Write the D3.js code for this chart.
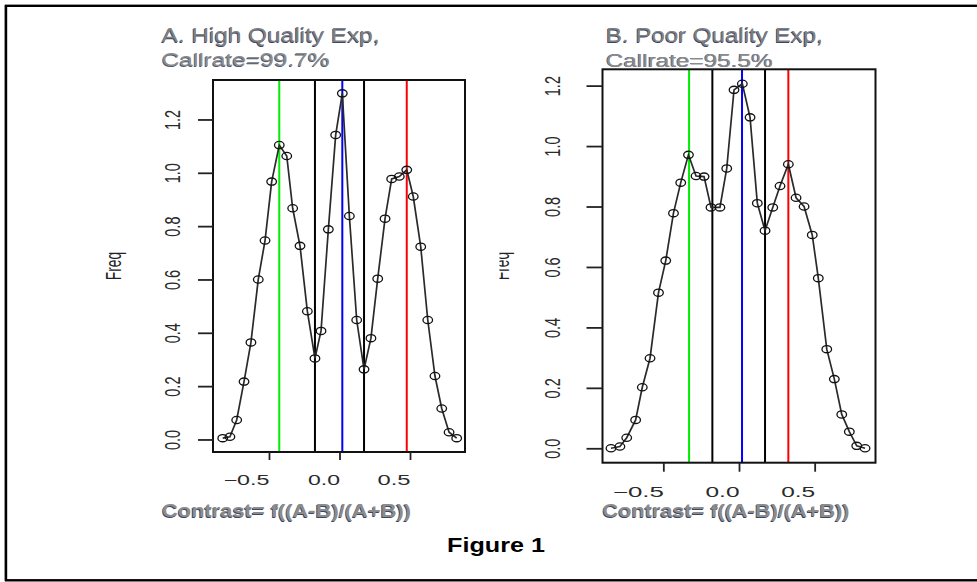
<!DOCTYPE html>
<html><head><meta charset="utf-8">
<script src="https://cdn.jsdelivr.net/npm/d3@7"></script>
<style>body{margin:0;background:#fff} svg{display:block}</style>
</head><body><svg id="c" width="977" height="582"></svg>
<script>
// ---------------- data ----------------
const xTickValues = [-0.5, 0.0, 0.5];
const xTickLabels = ["\u22120.5", "0.0", "0.5"];
const yTickValues = [0.0, 0.2, 0.4, 0.6, 0.8, 1.0, 1.2];
const yTickLabels = ["0.0", "0.2", "0.4", "0.6", "0.8", "1.0", "1.2"];

const contrastA = [-0.828,-0.777,-0.729,-0.677,-0.628,-0.576,-0.528,-0.481,-0.427,-0.374,-0.332,-0.280,-0.228,-0.174,-0.131,-0.079,-0.027,0.020,0.070,0.122,0.174,0.223,0.271,0.323,0.370,0.424,0.477,0.523,0.576,0.626,0.677,0.725,0.777,0.831];
const freqA = [0.005,0.010,0.073,0.217,0.364,0.600,0.746,0.967,1.104,1.063,0.867,0.726,0.481,0.304,0.407,0.788,1.142,1.298,0.838,0.448,0.263,0.380,0.603,0.828,0.977,0.986,1.011,0.911,0.723,0.448,0.238,0.116,0.027,0.005];

const contrastB = [-0.846,-0.787,-0.742,-0.683,-0.639,-0.588,-0.532,-0.484,-0.433,-0.385,-0.334,-0.284,-0.231,-0.185,-0.126,-0.081,-0.033,0.022,0.073,0.121,0.172,0.223,0.271,0.326,0.377,0.430,0.484,0.524,0.580,0.630,0.679,0.729,0.778,0.833];
const freqB = [0.000,0.006,0.035,0.094,0.202,0.298,0.515,0.621,0.778,0.879,0.971,0.901,0.899,0.797,0.797,0.926,1.186,1.206,1.095,0.811,0.720,0.797,0.868,0.940,0.829,0.800,0.706,0.563,0.328,0.229,0.112,0.055,0.008,0.000];

const cutsA = [-0.427, -0.174, 0.020, 0.174, 0.477];
const cutsB = [-0.330, -0.176, 0.020, 0.172, 0.326];
const cutColors = ["#00ee00", "#000000", "#0000ff", "#000000", "#ff0000"];

const titles = ["A. High Quality Exp,", "B. Poor Quality Exp,"];
const callrates = ["Callrate=99.7%", "Callrate=95.5%"];
const xLabel = "Contrast= f((A-B)/(A+B))";
const yLabel = "Freq";
const figLabel = "Figure 1";

// ---------------- layout ----------------
const svg = d3.select("#c");
svg.append("rect").attr("width",977).attr("height",582).attr("fill","#fff");
// outer frame (cut at the right side)
svg.append("rect").attr("x",4.5).attr("y",5.5).attr("width",1000).attr("height",574.5)
  .attr("fill","none").attr("stroke","#bbb").attr("stroke-width",1);
svg.append("rect").attr("x",6).attr("y",5.8).attr("width",1000).attr("height",574.5)
  .attr("fill","none").attr("stroke","#000").attr("stroke-width",2.4);

const FONT = "'Liberation Sans', Arial, sans-serif";
const NARROW = "'Liberation Sans Narrow', 'Liberation Sans', Arial, sans-serif";

function shadowText(x, y, txt, opts) {
  const g = svg.append("g");
  const mk = (dx, dy, col) => g.append("text")
    .attr("x", x + dx).attr("y", y + dy)
    .attr("font-family", opts.family || FONT)
    .attr("font-size", opts.size)
    .attr("font-weight", opts.weight || "normal")
    .attr("textLength", opts.width).attr("lengthAdjust", "spacingAndGlyphs")
    .attr("fill", col).text(txt);
  mk(-0.8, 0.5, opts.shadow || "#2e3c5e");
  mk(0, 0, opts.fill || "#808080");
}

const panels = [
  { cx: contrastA, fy: freqA, cuts: cutsA,
    box: {l:213, r:465, t:80, b:452}, xd: [-0.897, 0.890], yd: [-0.047, 1.348],
    xLabY: 485, xLabW: [46, 32, 33], yLabX: 180, yTickL: 15, xTickL: 8,
    title: [161.7, 42, 218], call: [161.7, 66, 168], cont: [162, 517, 249],
    freq: {x: 121, y: 266, clip: null} },
  { cx: contrastB, fy: freqB, cuts: cutsB,
    box: {l:602.5, r:875.5, t:69.3, b:462.7}, xd: [-0.902, 0.902], yd: [-0.0477, 1.254],
    xLabY: 497, xLabW: [51, 34, 34], yLabX: 560, yTickL: 16, xTickL: 9,
    title: [606, 42, 217], call: [606, 66.5, 167], cont: [602.6, 517, 247],
    freq: {x: 509, y: 266, clip: [499.5, 200, 40, 120]} }
];

panels.forEach((p, i) => {
  const x = d3.scaleLinear().domain(p.xd).range([p.box.l, p.box.r]);
  const y = d3.scaleLinear().domain(p.yd).range([p.box.b, p.box.t]);
  const g = svg.append("g");

  // cut lines
  g.selectAll("line.cut").data(p.cuts).join("line")
    .attr("x1", d => x(d)).attr("x2", d => x(d))
    .attr("y1", p.box.t).attr("y2", p.box.b)
    .attr("stroke", (d, k) => cutColors[k]).attr("stroke-width", 2);

  // data line
  const pts = p.cx.map((c, k) => [c, p.fy[k]]);
  g.append("path").datum(pts)
    .attr("d", d3.line().x(d => x(d[0])).y(d => y(d[1])))
    .attr("fill", "none").attr("stroke", "#2a2a2a").attr("stroke-width", 1.7);
  g.selectAll("ellipse").data(pts).join("ellipse")
    .attr("cx", d => x(d[0])).attr("cy", d => y(d[1]))
    .attr("rx", 4.8).attr("ry", 3.6)
    .attr("fill", "none").attr("stroke", "#111").attr("stroke-width", 1.3);

  // box
  g.append("rect").attr("x", p.box.l).attr("y", p.box.t)
    .attr("width", p.box.r - p.box.l).attr("height", p.box.b - p.box.t)
    .attr("fill", "none").attr("stroke", "#111").attr("stroke-width", 2);

  // y axis
  const ya = g.append("g").attr("transform", `translate(${p.box.l},0)`)
    .call(d3.axisLeft(y).tickValues(yTickValues).tickSize(p.yTickL).tickSizeOuter(0)
      .tickFormat((d, k) => yTickLabels[k]));
  ya.select(".domain").remove();
  ya.selectAll(".tick line").attr("stroke", "#222").attr("stroke-width", 1.8);
  ya.selectAll(".tick text").remove();
  ya.selectAll(".tick").append("g")
    .attr("transform", `translate(${p.yLabX - p.box.l},0) scale(1.55,1)`)
    .append("text").attr("transform", "rotate(-90)")
    .attr("text-anchor", "middle").attr("font-family", FONT).attr("font-size", 14.5)
    .attr("fill", "#2a2a2a").text((d, k) => yTickLabels[k]);

  // x axis
  const xa = g.append("g").attr("transform", `translate(0,${p.box.b})`)
    .call(d3.axisBottom(x).tickValues(xTickValues).tickSize(p.xTickL).tickSizeOuter(0)
      .tickFormat((d, k) => xTickLabels[k]));
  xa.select(".domain").remove();
  xa.selectAll(".tick line").attr("stroke", "#222").attr("stroke-width", 1.8);
  xa.selectAll(".tick text").remove();
  xa.selectAll(".tick").append("text")
    .attr("x", (d, k) => -p.xLabW[k] / 2).attr("y", p.xLabY - p.box.b)
    .attr("font-family", FONT).attr("font-size", 14)
    .attr("textLength", (d, k) => p.xLabW[k]).attr("lengthAdjust", "spacingAndGlyphs")
    .attr("fill", "#2a2a2a").text((d, k) => xTickLabels[k]);

  // y label "Freq"
  let fg = svg.append("g");
  if (p.freq.clip) {
    const id = "clipF" + i;
    svg.append("clipPath").attr("id", id).append("rect")
      .attr("x", p.freq.clip[0]).attr("y", p.freq.clip[1])
      .attr("width", p.freq.clip[2]).attr("height", p.freq.clip[3]);
    fg.attr("clip-path", `url(#${id})`);
  }
  fg.append("g").attr("transform", `translate(${p.freq.x},${p.freq.y}) scale(1.55,1)`)
    .append("text").attr("transform", "rotate(-90)").attr("text-anchor", "middle")
    .attr("font-family", FONT).attr("font-size", 13.8).attr("fill", "#222").text(yLabel);

  // titles
  shadowText(p.title[0], p.title[1], titles[i], {size: 21, width: p.title[2], fill: "#808080", shadow: "#3a4868"});
  shadowText(p.call[0], p.call[1], callrates[i], {size: 19, width: p.call[2], fill: "#8c8c8c", shadow: "#4c5a76"});
  shadowText(p.cont[0], p.cont[1], xLabel, {size: 19, width: p.cont[2], weight: "bold",
    family: NARROW, fill: "#8c8c8c", shadow: "#3a4866"});
});

svg.append("text").attr("x", 447).attr("y", 552)
  .attr("font-family", FONT).attr("font-size", 21).attr("font-weight", "bold")
  .attr("textLength", 98).attr("lengthAdjust", "spacingAndGlyphs")
  .attr("fill", "#000").text(figLabel);
</script></body></html>
